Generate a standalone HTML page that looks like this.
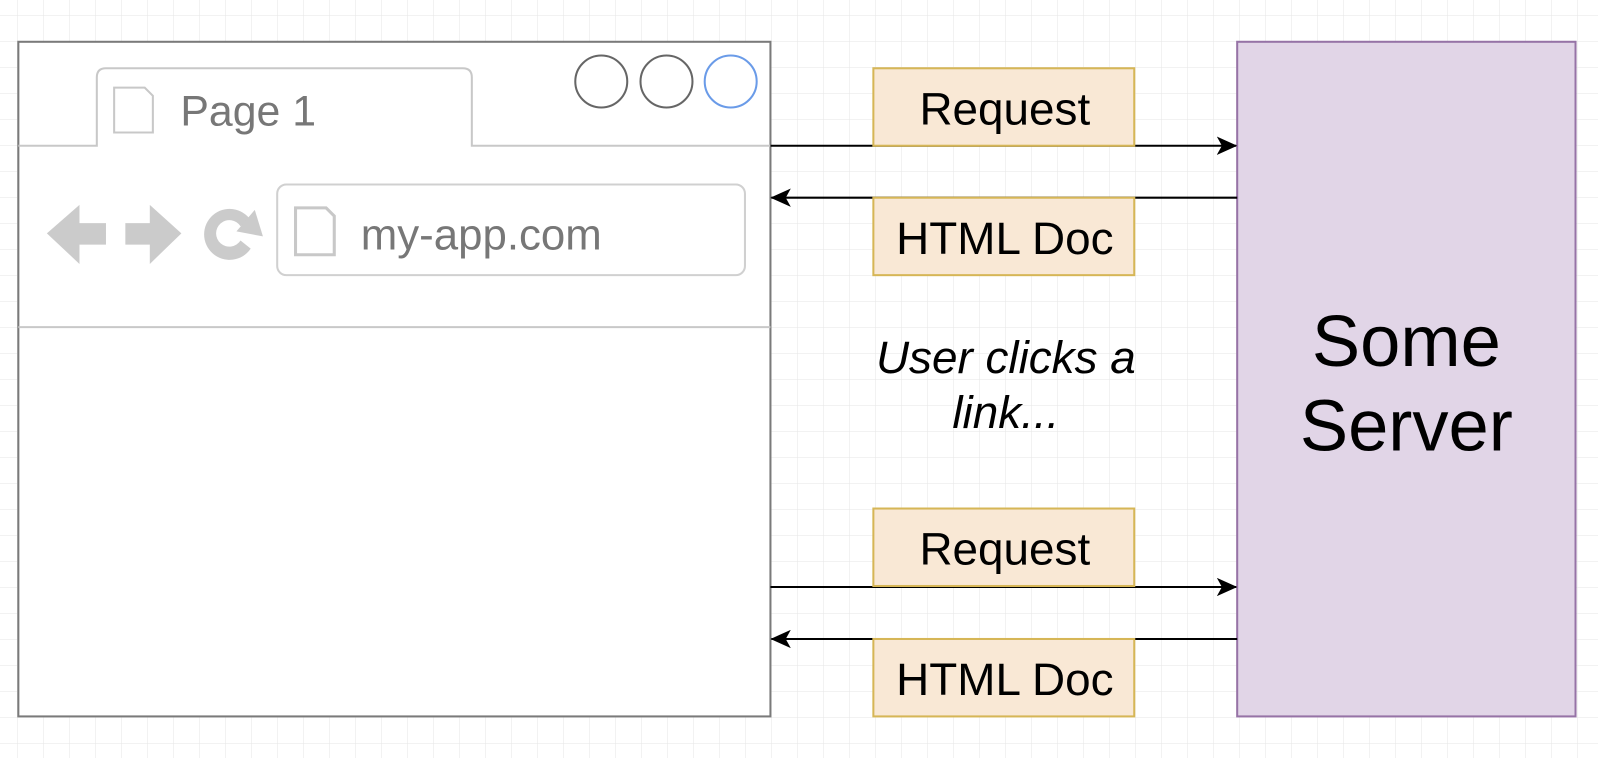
<!DOCTYPE html>
<html><head><meta charset="utf-8"><style>
html,body{margin:0;padding:0;background:#fff;}
svg{display:block;}
text{font-family:"Liberation Sans",Arial,sans-serif;}
</style></head><body>
<svg width="1598" height="758" viewBox="0 0 1598 758" xmlns="http://www.w3.org/2000/svg">
<defs>
<pattern id="g" x="17" y="15" width="26" height="26" patternUnits="userSpaceOnUse">
<path d="M0 0V26M0 0H26" stroke="#e6e6e6" stroke-width="1" fill="none"/>
</pattern>
<marker id="ar" viewBox="0 0 20 18" refX="19" refY="9" markerWidth="20" markerHeight="18" orient="auto" markerUnits="userSpaceOnUse">
<path d="M0 0L20 9L0 18L5 9Z" fill="#000"/>
</marker>
</defs>
<rect width="1598" height="758" fill="url(#g)"/>
<g transform="scale(1.0191)">
<rect x="18" y="41" width="738" height="662" fill="#fff" stroke="#7a7a7a" stroke-width="2"/>
<path d="M18 143H95V76Q95 67 104 67H454Q463 67 463 76V143H756" fill="none" stroke="#c8c8c8" stroke-width="2"/>
<line x1="18" y1="321" x2="756" y2="321" stroke="#c8c8c8" stroke-width="2"/>
<path d="M112 86h30l8 8v36h-38z" fill="#fff" stroke="#c8c8c8" stroke-width="2"/>
<text x="177" y="123" font-size="42" fill="#777">Page 1</text>
<circle cx="590" cy="80" r="25.5" fill="#fff" stroke="#666" stroke-width="2"/>
<circle cx="654" cy="80" r="25.5" fill="#fff" stroke="#666" stroke-width="2"/>
<circle cx="717" cy="80" r="25.5" fill="#fff" stroke="#6a9be8" stroke-width="2"/>
<path d="M46 229L78 201V219H104V240H78V259Z" fill="#cbcbcb"/>
<path d="M178 229L147 201V219H123V240H147V259Z" fill="#cbcbcb"/>
<path d="M246 216A25 25 0 1 0 246 244L236 236A13 13 0 1 1 236 222Z" fill="#cbcbcb"/>
<path d="M250 206L258 232L232 227Z" fill="#cbcbcb"/>
<rect x="272" y="181" width="459" height="89" rx="9" fill="#fff" stroke="#d0d0d0" stroke-width="2"/>
<path d="M290 204h30l8 8v38h-38z" fill="#fff" stroke="#c8c8c8" stroke-width="3"/>
<text x="354" y="245" font-size="43" fill="#777">my-app.com</text>
<rect x="1214" y="41" width="332" height="662" fill="#e1d5e7" stroke="#9673a6" stroke-width="2"/>
<text x="1380" y="359" font-size="71" text-anchor="middle" fill="#000">Some</text>
<text x="1380" y="442" font-size="71" text-anchor="middle" fill="#000">Server</text>
<line x1="756" y1="143" x2="1213" y2="143" stroke="#000" stroke-width="2" marker-end="url(#ar)"/>
<line x1="1214" y1="194" x2="757" y2="194" stroke="#000" stroke-width="2" marker-end="url(#ar)"/>
<line x1="756" y1="576" x2="1213" y2="576" stroke="#000" stroke-width="2" marker-end="url(#ar)"/>
<line x1="1214" y1="627" x2="757" y2="627" stroke="#000" stroke-width="2" marker-end="url(#ar)"/>
<g fill="#f9e8d5" stroke="#d6b656" stroke-width="2">
<rect x="857" y="67" width="256" height="76"/>
<rect x="857" y="194" width="256" height="76"/>
<rect x="857" y="499" width="256" height="76"/>
<rect x="857" y="627" width="256" height="76"/>
</g>
<g font-size="45" text-anchor="middle" fill="#000">
<text x="986" y="122">Request</text>
<text x="986" y="249">HTML Doc</text>
<text x="986" y="554">Request</text>
<text x="986" y="682">HTML Doc</text>
</g>
<g font-size="45" font-style="italic" text-anchor="middle" fill="#000">
<text x="987" y="366">User clicks a</text>
<text x="987" y="420">link...</text>
</g>
</g>
</svg>
</body></html>
